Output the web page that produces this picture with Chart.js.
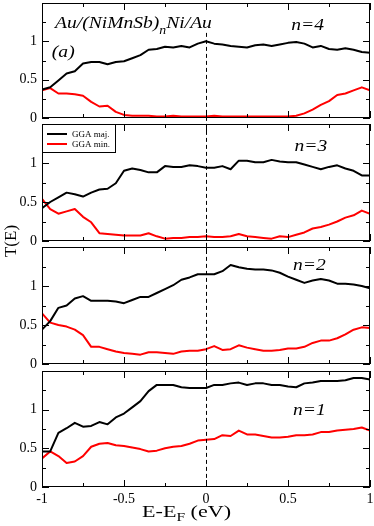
<!DOCTYPE html>
<html>
<head>
<meta charset="utf-8">
<script src="https://cdn.jsdelivr.net/npm/chart.js@4.4.0/dist/chart.umd.min.js"></script>
<style>
  html, body { margin: 0; padding: 0; background: #fff; }
  #marco { position: relative; width: 374px; height: 526px; }
  #marco canvas { position: absolute; left: 0; top: 0; width: 374px; height: 526px; }
</style>
</head>
<body>
<div id="marco">
  <canvas id="g1" width="374" height="526"></canvas>
  <canvas id="g2" width="374" height="526"></canvas>
  <canvas id="g3" width="374" height="526"></canvas>
  <canvas id="g4" width="374" height="526"></canvas>
</div>
<script>
// energia E-E_F (eV)
const energia = [-1, -0.95, -0.9, -0.85, -0.8, -0.75, -0.7, -0.65, -0.6, -0.55, -0.5,
  -0.45, -0.4, -0.35, -0.3, -0.25, -0.2, -0.15, -0.1, -0.05, 0,
  0.05, 0.1, 0.15, 0.2, 0.25, 0.3, 0.35, 0.4, 0.45, 0.5,
  0.55, 0.6, 0.65, 0.7, 0.75, 0.8, 0.85, 0.9, 0.95, 1];

// n=4
const majN4 = [0.37, 0.40, 0.49, 0.58, 0.61, 0.71, 0.73, 0.73, 0.70, 0.73, 0.74,
  0.78, 0.82, 0.89, 0.90, 0.93, 0.92, 0.94, 0.92, 0.97, 1.00,
  0.97, 0.96, 0.94, 0.93, 0.92, 0.95, 0.96, 0.94, 0.96, 0.98,
  0.99, 0.97, 0.92, 0.94, 0.90, 0.89, 0.91, 0.89, 0.86, 0.85];
const minN4 = [0.36, 0.39, 0.32, 0.32, 0.31, 0.29, 0.21, 0.15, 0.16, 0.08, 0.04,
  0.03, 0.03, 0.03, 0.02, 0.02, 0.03, 0.02, 0.02, 0.02, 0.02,
  0.03, 0.02, 0.02, 0.02, 0.02, 0.02, 0.02, 0.02, 0.02, 0.02,
  0.03, 0.06, 0.11, 0.17, 0.22, 0.30, 0.32, 0.36, 0.40, 0.36];

// n=3
const majN3 = [0.42, 0.50, 0.56, 0.62, 0.60, 0.57, 0.62, 0.66, 0.67, 0.74, 0.90,
  0.93, 0.91, 0.88, 0.88, 0.96, 0.95, 0.95, 0.97, 0.96, 0.94,
  0.94, 0.96, 0.92, 1.03, 1.03, 1.01, 1.01, 1.04, 1.02, 1.01,
  1.01, 0.98, 0.95, 0.92, 0.95, 0.97, 0.93, 0.90, 0.84, 0.84];
const minN3 = [0.54, 0.41, 0.35, 0.38, 0.41, 0.31, 0.24, 0.10, 0.09, 0.08, 0.07,
  0.07, 0.07, 0.10, 0.06, 0.03, 0.04, 0.04, 0.05, 0.05, 0.06,
  0.05, 0.05, 0.06, 0.09, 0.06, 0.05, 0.04, 0.03, 0.06, 0.05,
  0.08, 0.11, 0.16, 0.18, 0.21, 0.25, 0.30, 0.33, 0.39, 0.35];

// n=2
const majN2 = [0.44, 0.55, 0.72, 0.75, 0.84, 0.87, 0.81, 0.81, 0.81, 0.80, 0.78,
  0.82, 0.86, 0.86, 0.91, 0.96, 1.01, 1.08, 1.11, 1.15, 1.15,
  1.15, 1.19, 1.27, 1.24, 1.22, 1.21, 1.21, 1.20, 1.17, 1.12,
  1.08, 1.04, 1.07, 1.09, 1.07, 1.03, 1.03, 1.02, 1.00, 0.97];
const minN2 = [0.65, 0.53, 0.50, 0.48, 0.44, 0.37, 0.22, 0.22, 0.19, 0.16, 0.14,
  0.13, 0.12, 0.15, 0.15, 0.14, 0.13, 0.16, 0.17, 0.17, 0.19,
  0.23, 0.18, 0.19, 0.24, 0.21, 0.19, 0.17, 0.17, 0.18, 0.20,
  0.20, 0.22, 0.27, 0.30, 0.30, 0.33, 0.38, 0.44, 0.47, 0.46];

// n=1
const majN1 = [0.46, 0.46, 0.70, 0.76, 0.83, 0.78, 0.79, 0.84, 0.81, 0.90, 0.95,
  1.03, 1.11, 1.24, 1.32, 1.32, 1.32, 1.29, 1.28, 1.28, 1.28,
  1.32, 1.32, 1.34, 1.35, 1.32, 1.34, 1.34, 1.32, 1.32, 1.30,
  1.29, 1.34, 1.35, 1.37, 1.37, 1.37, 1.38, 1.41, 1.41, 1.39];
const minN1 = [0.37, 0.46, 0.40, 0.31, 0.33, 0.40, 0.52, 0.56, 0.57, 0.54, 0.53,
  0.51, 0.49, 0.46, 0.47, 0.50, 0.52, 0.53, 0.56, 0.60, 0.61,
  0.62, 0.67, 0.66, 0.73, 0.68, 0.68, 0.66, 0.64, 0.64, 0.65,
  0.67, 0.67, 0.68, 0.71, 0.71, 0.73, 0.74, 0.75, 0.77, 0.73];

const etiquetas = ["GGA maj.", "GGA min."];
const colores = ["#000000", "#ff0000"];
const rotulos = ["n=4", "n=3", "n=2", "n=1"];

// posiciones de cada panel en la pagina (px)
const topes = [3, 124, 247, 371];
const fondos = [118, 241, 364, 487];
const ALTO = 526;
const SERIF = "'Liberation Serif', 'Times New Roman', serif";

function escribir(ctx, partes, x, y, estirar) {
  ctx.save();
  ctx.translate(x, y);
  ctx.scale(estirar, 1);
  ctx.fillStyle = "#000";
  ctx.textBaseline = "alphabetic";
  let cx = 0;
  for (const p of partes) {
    ctx.font = p.font;
    ctx.fillText(p.t, cx, p.dy || 0);
    cx += ctx.measureText(p.t).width;
  }
  ctx.restore();
}

// caja, marcas hacia dentro y textos de cada panel
const panelPlugin = {
  id: "panel",
  afterDatasetsDraw(chart, args, o) {
    const { ctx, chartArea: a, scales: { x, y } } = chart;
    ctx.save();
    ctx.strokeStyle = "#000";
    ctx.lineWidth = 1;
    ctx.beginPath();
    x.ticks.forEach(t => {
      const px = Math.round(x.getPixelForValue(t.value)) + 0.5;
      const l = t.value % 0.5 === 0 ? 7 : 4;
      ctx.moveTo(px, a.bottom); ctx.lineTo(px, a.bottom - l);
      ctx.moveTo(px, a.top); ctx.lineTo(px, a.top + l);
    });
    y.ticks.forEach(t => {
      const py = Math.round(y.getPixelForValue(t.value)) + 0.5;
      const l = t.value % 0.5 === 0 ? 7 : 4;
      ctx.moveTo(a.left, py); ctx.lineTo(a.left + l, py);
      ctx.moveTo(a.right, py); ctx.lineTo(a.right - l, py);
    });
    ctx.stroke();
    ctx.strokeRect(a.left + 0.5, a.top + 0.5, a.right - a.left - 1, a.bottom - a.top - 1);
    ctx.restore();

    const it = "italic 17px " + SERIF;
    escribir(ctx, [{ t: o.rotulo, font: it }],
      x.getPixelForValue(o.rx), y.getPixelForValue(o.ry), 1.15);

    if (o.titulo) {
      escribir(ctx, [
        { t: "Au/(NiMnSb)", font: it },
        { t: "n", font: "italic 12px " + SERIF, dy: 6 },
        { t: "Ni/Au", font: it }
      ], x.getPixelForValue(-0.92), y.getPixelForValue(1.18), 1.15);
      escribir(ctx, [{ t: "(a)", font: it }],
        x.getPixelForValue(-0.94), y.getPixelForValue(0.8), 1.15);
    }

    if (o.leyenda) {
      const w = 73, h = 28;
      ctx.save();
      ctx.fillStyle = "#fff";
      ctx.fillRect(a.left, a.top, w, h);
      ctx.strokeStyle = "#000";
      ctx.lineWidth = 1;
      ctx.strokeRect(a.left + 0.5, a.top + 0.5, w, h);
      chart.data.datasets.forEach((d, k) => {
        const yy = a.top + 10 + k * 10;
        ctx.strokeStyle = d.borderColor;
        ctx.lineWidth = 2;
        ctx.beginPath();
        ctx.moveTo(a.left + 5, yy); ctx.lineTo(a.left + 25, yy);
        ctx.stroke();
        ctx.fillStyle = "#000";
        ctx.font = "9px " + SERIF;
        ctx.textBaseline = "middle";
        ctx.fillText(d.label, a.left + 30, yy + 0.5);
      });
      ctx.restore();
    }

    if (o.ejes) {
      // linea de Fermi a traves de los cuatro paneles
      const y0 = graficas[0].scales.y.getPixelForValue(1.11);
      const px = Math.round(x.getPixelForValue(0)) + 0.5;
      ctx.save();
      ctx.strokeStyle = "#000";
      ctx.lineWidth = 1;
      ctx.setLineDash([4, 3]);
      ctx.beginPath();
      ctx.moveTo(px, y0); ctx.lineTo(px, a.bottom);
      ctx.stroke();
      ctx.restore();

      escribir(ctx, [
        { t: "E-E", font: "17px " + SERIF },
        { t: "F", font: "12px " + SERIF, dy: 4 },
        { t: " (eV)", font: "17px " + SERIF }
      ], x.getPixelForValue(-0.39), 517, 1.3);

      ctx.save();
      ctx.translate(16, 241);
      ctx.rotate(-Math.PI / 2);
      ctx.font = "17px " + SERIF;
      ctx.fillStyle = "#000";
      ctx.textAlign = "center";
      ctx.textBaseline = "alphabetic";
      ctx.fillText("T(E)", 0, 0);
      ctx.restore();
    }
  }
};

function armar(id, i, mayor, menor, extra) {
  const ultimo = i === 3;
  const fuente = { family: SERIF, size: 14 };
  return new Chart(document.getElementById(id), {
    type: "line",
    data: {
      datasets: [mayor, menor].map((serie, k) => ({
        label: etiquetas[k],
        data: energia.map((e, j) => ({ x: e, y: serie[j] })),
        borderColor: colores[k],
        borderWidth: 2,
        pointRadius: 0,
        fill: false,
        tension: 0,
        borderJoinStyle: "round"
      }))
    },
    options: {
      responsive: false,
      animation: false,
      events: [],
      layout: { padding: { top: topes[i], right: 4, left: 0, bottom: 0 } },
      plugins: {
        legend: { display: false },
        tooltip: { enabled: false },
        panel: Object.assign({ rotulo: rotulos[i] }, extra)
      },
      scales: {
        x: {
          type: "linear",
          min: -1,
          max: 1,
          grid: { display: false, drawTicks: false },
          border: { display: false },
          ticks: {
            display: ultimo,
            stepSize: 0.25,
            autoSkip: false,
            maxRotation: 0,
            padding: 4,
            color: "#000",
            font: fuente,
            callback: v => (v % 0.5 === 0 ? v : "")
          },
          afterFit: s => { s.height = ALTO - fondos[i]; s.paddingLeft = 0; s.paddingRight = 0; }
        },
        y: {
          min: 0,
          max: 1.5,
          grid: { display: false, drawTicks: false },
          border: { display: false },
          ticks: {
            stepSize: 0.25,
            autoSkip: false,
            padding: 5,
            color: "#000",
            font: fuente,
            callback: v => (v % 0.5 === 0 && v < 1.5 ? v : "")
          },
          afterFit: s => { s.width = 42; s.paddingTop = 0; s.paddingBottom = 0; }
        }
      }
    },
    plugins: [panelPlugin]
  });
}

const graficas = [];
graficas.push(armar("g1", 0, majN4, minN4, { rx: 0.52, ry: 1.15, titulo: true }));
graficas.push(armar("g2", 1, majN3, minN3, { rx: 0.54, ry: 1.16, leyenda: true }));
graficas.push(armar("g3", 2, majN2, minN2, { rx: 0.53, ry: 1.2 }));
graficas.push(armar("g4", 3, majN1, minN1, { rx: 0.53, ry: 0.93, ejes: true }));
</script>
</body>
</html>
